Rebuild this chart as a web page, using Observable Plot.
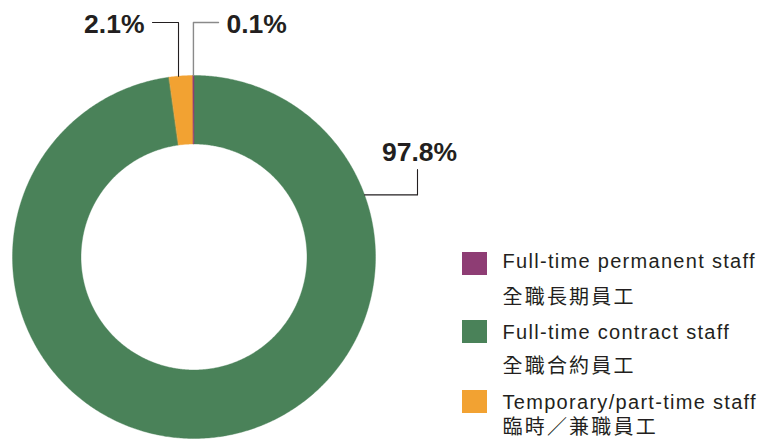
<!DOCTYPE html>
<html>
<head>
<meta charset="utf-8">
<script src="https://cdn.jsdelivr.net/npm/d3@7"></script>
<script src="https://cdn.jsdelivr.net/npm/@observablehq/plot@0.6"></script>
<style>
  html, body { margin: 0; padding: 0; background: #fff; }
  #chart { width: 761px; height: 439px; }
</style>
</head>
<body>
<div id="chart"></div>
<script>
// ---- data ----
const categories = ["Full-time permanent staff", "Full-time contract staff", "Temporary/part-time staff"];
const categoriesZh = ["全職長期員工", "全職合約員工", "臨時／兼職員工"];
const shares = [0.1, 97.8, 2.1];
const shareLabels = ["0.1%", "97.8%", "2.1%"];
const colors = ["#8e3d74", "#4a8259", "#f2a232"];
// clockwise order of slices starting at 12 o'clock
const sliceOrder = [1, 2, 0];

// ---- layout ----
const W = 761, H = 439;
const cx = 193.5, cy = 256.5, rOuter = 181.5, rInner = 113;
const labelLayout = {
  0: {t: 0.5, elbowY: 22, endX: 218, textX: 226, textY: 32, anchor: "start", kind: "up"},
  2: {t: 0.4, elbowY: 22, endX: 152, textX: 144, textY: 32, anchor: "end", kind: "up"},
  1: {t: 0.1988, elbowX: 417, endY: 169, textX: 419, textY: 160, anchor: "middle", kind: "side"}
};
const legendTops = [252, 320, 390];
const legendEnBase = [267, 338, 408];
const legendZhBase = [303, 372, 433.5];
const swX = 462, swW = 25, swH = 23, legendTextX = 502;

// ---- geometry from data ----
const total = d3.sum(shares);
let acc = 0;
const slices = sliceOrder.map(i => {
  const a0 = acc / total * 2 * Math.PI;
  acc += shares[i];
  const a1 = acc / total * 2 * Math.PI;
  return {i, a0, a1};
});
const pt = (a, r) => ({x: cx + r * Math.sin(a), y: cy - r * Math.cos(a)});

const polys = [];
for (const s of slices) {
  const n = Math.max(2, Math.ceil((s.a1 - s.a0) / (Math.PI / 360)));
  const ring = [];
  for (let k = 0; k <= n; k++) ring.push(pt(s.a0 + (s.a1 - s.a0) * k / n, rOuter));
  for (let k = n; k >= 0; k--) ring.push(pt(s.a0 + (s.a1 - s.a0) * k / n, rInner));
  ring.forEach(p => polys.push({...p, cat: categories[s.i], color: colors[s.i]}));
}

const leaders = [];
const labelTexts = [];
for (const s of slices) {
  const L = labelLayout[s.i];
  const a = s.a0 + (s.a1 - s.a0) * L.t;
  const p = pt(a, rOuter);
  let path;
  if (L.kind === "up") path = [p, {x: p.x, y: L.elbowY}, {x: L.endX, y: L.elbowY}];
  else path = [p, {x: L.elbowX, y: p.y}, {x: L.elbowX, y: L.endY}];
  path.forEach(q => leaders.push({...q, id: s.i, stroke: s.i === 0 ? "#8a8a8a" : "#231f20"}));
  labelTexts.push({x: L.textX, y: L.textY, text: shareLabels[s.i], anchor: L.anchor});
}

const legend = categories.map((c, i) => ({
  cat: c, zh: categoriesZh[i], color: colors[i],
  y1: legendTops[i], y2: legendTops[i] + swH, en: legendEnBase[i], zhY: legendZhBase[i]
}));

const sansEn = "'Liberation Sans', Arial, Helvetica, sans-serif";
const sansZh = "'Noto Sans CJK TC', 'Noto Sans CJK SC', sans-serif";

const chart = Plot.plot({
  width: W, height: H, margin: 0,
  x: {domain: [0, W], range: [0, W], axis: null},
  y: {domain: [0, H], range: [0, H], axis: null},
  style: {background: "#fff", fontFamily: sansEn},
  marks: [
    ...slices.map(s => Plot.line(polys.filter(p => p.cat === categories[s.i]), {
      x: "x", y: "y", fill: colors[s.i], stroke: colors[s.i], strokeWidth: 0.4, curve: "linear-closed"
    })),
    ...[0, 2, 1].map(id => Plot.line(leaders.filter(d => d.id === id), {
      x: "x", y: "y", stroke: leaders.find(d => d.id === id).stroke, strokeWidth: id === 0 ? 1.4 : 1.1
    })),
    ...["start", "end", "middle"].map(anc => Plot.text(labelTexts.filter(d => d.anchor === anc), {
      x: "x", y: "y", text: "text", textAnchor: anc, lineAnchor: "bottom",
      fontSize: 26.5, fontWeight: "bold", fill: "#231f20", fontFamily: sansEn
    })),
    Plot.rect(legend, {x1: () => swX, x2: () => swX + swW, y1: "y1", y2: "y2", fill: "color"}),
    Plot.text(legend, {
      x: () => legendTextX, y: "en", text: "cat", textAnchor: "start", lineAnchor: "bottom",
      fontSize: 20, fill: "#231f20", fontFamily: sansEn
    }),
    Plot.text(legend, {
      x: () => legendTextX, y: "zhY", text: "zh", textAnchor: "start", lineAnchor: "bottom",
      fontSize: 20, fill: "#231f20", fontFamily: sansZh
    })
  ],
  color: {type: "identity"}
});
document.getElementById("chart").appendChild(chart);
// tracking of the legend text, as in the reference
chart.querySelectorAll("text").forEach(t => {
  const s = t.textContent;
  if (categories.includes(s)) t.style.letterSpacing = "1.3px";
  if (categoriesZh.includes(s)) t.style.letterSpacing = "2.2px";
});
</script>
</body>
</html>
